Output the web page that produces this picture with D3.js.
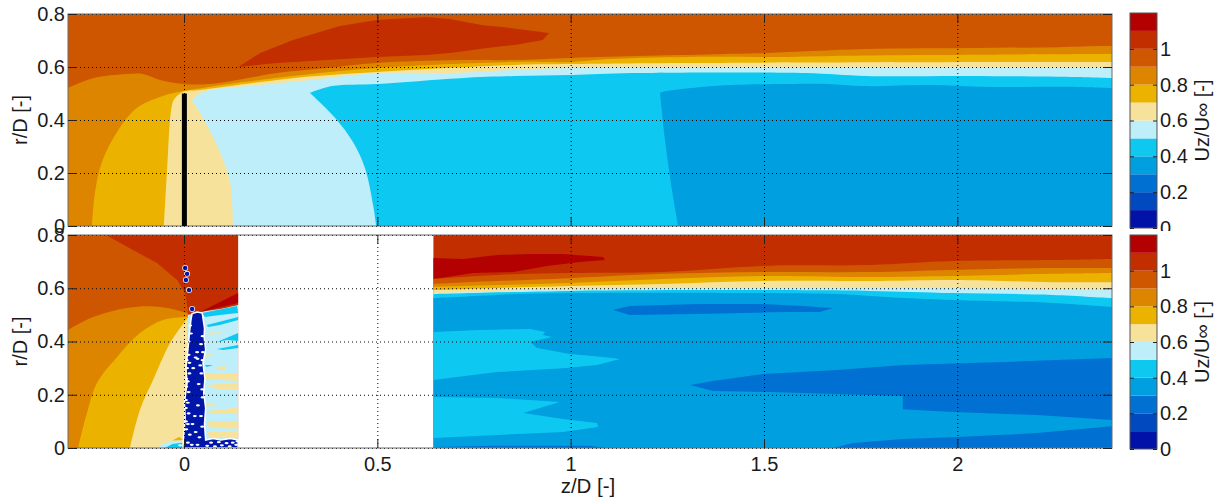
<!DOCTYPE html>
<html>
<head>
<meta charset="utf-8">
<script src="https://cdn.jsdelivr.net/npm/d3@7"></script>
<style>
  html, body { margin: 0; background: #fff; }
  text { font-family: "Liberation Sans", Arial, sans-serif; fill: #1a1a1a; }
  .grid line { stroke: #000; stroke-width: 1; stroke-dasharray: 1 3; }
  .grid path, .frame path { display: none; }
  .frame line { stroke: #222; stroke-width: 1; }
  .tick text { font-size: 20px; }
</style>
</head>
<body>
<svg id="chart" width="1222" height="500"></svg>
<script>
// colour bands of Uz/U_inf
const bandBreaks = [0.1, 0.2, 0.3, 0.4, 0.5, 0.6, 0.7, 0.8, 0.9, 1.0, 1.1];
const bandColors = ['#0012A8', '#0049BE', '#0070D2', '#00A0E0', '#0FC8F0', '#BEEEFA',
                    '#F7E29C', '#EBB300', '#DE8500', '#CF5700', '#C22E00', '#B30000'];
const bandLevels = [0.05, 0.15, 0.25, 0.35, 0.45, 0.55, 0.65, 0.75, 0.85, 0.95, 1.05, 1.15];

const zTicks = [0, 0.5, 1, 1.5, 2];
const rTicks = [0, 0.2, 0.4, 0.6, 0.8];
const barTicks = [0, 0.2, 0.4, 0.6, 0.8, 1];

// top panel: contour outlines, [z, r]. A repeated point keeps a corner sharp.
const topPatch105 = [[0.140,0.600],[0.197,0.653],[0.282,0.702],[0.403,0.755],[0.499,0.777],[0.628,0.789],[0.688,0.781],[0.773,0.758],[0.825,0.751],[0.944,0.728],[0.928,0.702],[0.856,0.683],[0.799,0.675],[0.688,0.653],[0.628,0.645],[0.499,0.638],[0.370,0.626],[0.241,0.615]];
const topEdge085 = [[-0.30,0.521],[-0.235,0.558],[-0.147,0.574],[-0.106,0.574],[-0.062,0.551],[-0.003,0.536],[0.067,0.536],[0.153,0.555],[0.241,0.577],[0.370,0.596],[0.499,0.615],[0.714,0.626],[0.856,0.626],[1.001,0.634],[1.203,0.642],[1.404,0.649],[1.510,0.653],[1.764,0.668],[2.064,0.672],[2.265,0.675],[2.372,0.679],[2.40,0.679]];
const topEdge075 = [[-0.238,0],[-0.230,0.128],[-0.212,0.242],[-0.173,0.355],[-0.122,0.445],[-0.062,0.487],[-0.003,0.509],[0.049,0.521],[0.153,0.543],[0.282,0.566],[0.499,0.596],[0.856,0.619],[1.001,0.619],[1.102,0.630],[1.303,0.638],[1.562,0.638],[1.717,0.642],[1.919,0.645],[2.366,0.649],[2.40,0.649]];
const topEdge065 = [[-0.052,0],[-0.044,0.204],[-0.031,0.457],[-0.023,0.483],[-0.003,0.506],[0.041,0.513],[0.282,0.558],[0.499,0.581],[0.856,0.608],[1.001,0.611],[1.303,0.615],[2.366,0.619],[2.40,0.619]];
const topEdge055 = [[0.127,0],[0.119,0.166],[0.093,0.279],[0.059,0.381],[0.034,0.445],[0.021,0.475],[0.021,0.475],[0.049,0.506],[0.197,0.532],[0.370,0.558],[0.499,0.577],[0.688,0.577],[0.856,0.589],[1.001,0.596],[1.510,0.600],[2.40,0.600]];
const topEdge045 = [[0.497,0],[0.489,0.079],[0.468,0.219],[0.437,0.317],[0.391,0.408],[0.326,0.502],[0.326,0.502],[0.383,0.528],[0.499,0.536],[0.714,0.558],[0.856,0.566],[1.001,0.570],[1.159,0.577],[1.606,0.577],[1.764,0.566],[2.030,0.566],[2.312,0.562],[2.40,0.558]];
const topEdge035 = [[1.278,0],[1.262,0.136],[1.244,0.325],[1.231,0.502],[1.231,0.502],[1.247,0.509],[1.314,0.521],[1.415,0.532],[1.562,0.536],[1.663,0.536],[1.764,0.528],[1.919,0.532],[2.087,0.525],[2.312,0.525],[2.40,0.521]];
const bladeLine = [[0.001,0],[0.001,0.5]];

// bottom panel, left of the gap
const leftEdge095 = [[-0.30,0.80],[-0.202,0.80],[-0.132,0.744],[-0.070,0.695],[-0.018,0.631],[0.003,0.582],[0.010,0.518]];
const leftEdge085 = [[-0.30,0.443],[-0.235,0.492],[-0.147,0.526],[-0.062,0.530],[0.010,0.507]];
const leftEdge075 = [[-0.274,0],[-0.251,0.131],[-0.225,0.244],[-0.173,0.342],[-0.114,0.432],[-0.054,0.481],[0.010,0.492]];
const leftEdge065 = [[-0.140,0],[-0.114,0.143],[-0.080,0.255],[-0.036,0.394],[0.010,0.489]];
const wakeEdge055 = [[0.010,0.50],[0.041,0.511],[0.093,0.522],[0.140,0.537]];
const wakeWedge115 = [[0.041,0.511],[0.140,0.582],[0.140,0.545],[0.054,0.515]];
const wakeCyan = [
  [[0.047,0.507],[0.137,0.533],[0.140,0.507],[0.093,0.500],[0.054,0.492]],
  [[0.059,0.462],[0.140,0.492],[0.140,0.481],[0.093,0.462],[0.062,0.454]],
  [[0.085,0.398],[0.140,0.432],[0.140,0.402],[0.111,0.406]],
  [[0.085,0.372],[0.140,0.387],[0.140,0.376],[0.101,0.368]],
  [[0.054,0.312],[0.075,0.312],[0.059,0.304]]
];
const wakeYellow = [
  [[0.059,0.432],[0.101,0.436],[0.067,0.424]],
  [[0.054,0.349],[0.080,0.357],[0.059,0.342]],
  [[0.085,0.304],[0.106,0.308],[0.106,0.297],[0.085,0.297]],
  [[0.054,0.278],[0.140,0.282],[0.140,0.252],[0.054,0.259]],
  [[0.054,0.237],[0.140,0.244],[0.140,0.222],[0.093,0.218]],
  [[0.054,0.169],[0.085,0.165],[0.059,0.154]],
  [[0.062,0.139],[0.140,0.152],[0.140,0.128],[0.067,0.128]],
  [[0.059,0.100],[0.140,0.102],[0.140,0.072],[0.067,0.076]],
  [[0.059,0.060],[0.140,0.062],[0.140,0.036],[0.067,0.040]]
];
const hubPale = [[-0.07,0],[-0.05,0.02],[-0.01,0.03],[0,0]];
const hubCyan = [[-0.05,0],[-0.03,0.015],[-0.005,0.02],[0,0]];
const hubYellow = [[-0.03,0.028],[-0.012,0.042],[-0.003,0.03]];
const jetOutline = [[-0.003,0],[0.003,0.116],[0.001,0.170],[0.008,0.244],[0.005,0.300],[0.010,0.368],[0.014,0.430],[0.018,0.481],[0.021,0.505],[0.034,0.511],[0.047,0.507],[0.053,0.450],[0.052,0.417],[0.056,0.370],[0.049,0.319],[0.054,0.260],[0.051,0.207],[0.056,0.150],[0.053,0.090],[0.056,0.030],[0.075,0.036],[0.095,0.030],[0.120,0.036],[0.140,0.030],[0.140,0]];
const jetDrops = [[0.003,0.676],[0.008,0.654],[0.005,0.631],[0.013,0.593],[0.021,0.522]];
const jetSpecks = [[0.004,0.40],[0.006,0.37],[0.012,0.35],[0.007,0.33],[0.008,0.30],[0.014,0.28],[0.006,0.26],[0.006,0.23],[0.012,0.21],[0.005,0.18],[0.005,0.15],[0.012,0.13],[0.005,0.10],[0.006,0.07],[0.015,0.05],[0.022,0.09],[0.03,0.06],[0.04,0.04],[0.028,0.12],[0.036,0.16],[0.044,0.12],[0.048,0.19],[0.038,0.24],[0.045,0.28],[0.042,0.31],[0.048,0.33],[0.034,0.36],[0.044,0.39],[0.048,0.42],[0.018,0.43],[0.016,0.46],[0.03,0.34],[0.035,0.335],[0.024,0.30],[0.012,0.40],[0.014,0.32],[0.010,0.25],[0.010,0.17],[0.010,0.09],[0.047,0.22],[0.047,0.08],[0.049,0.36],[0.06,0.008],[0.07,0.02],[0.08,0.006],[0.09,0.022],[0.098,0.01],[0.11,0.018],[0.118,0.006],[0.126,0.02],[0.135,0.012],[0.138,0.025],[0.02,0.012],[0.01,0.02],[-0.01,0.01],[0.035,0.012]];

// bottom panel, right of the gap
const rightBox = [[0.645,0.80],[2.40,0.80],[2.40,0],[0.645,0]];
const rightPatch115 = [[0.645,0.714],[0.722,0.710],[0.809,0.725],[0.895,0.729],[0.980,0.729],[1.084,0.717],[1.089,0.706],[1.024,0.699],[0.939,0.684],[0.851,0.661],[0.747,0.657],[0.645,0.635]];
const rightEdge095 = [[0.645,0.635],[0.809,0.650],[0.998,0.657],[1.239,0.661],[1.497,0.684],[1.774,0.687],[1.989,0.702],[2.247,0.706],[2.40,0.710]];
const rightEdge085 = [[0.645,0.616],[0.809,0.627],[0.998,0.638],[1.239,0.654],[1.497,0.661],[1.774,0.661],[1.989,0.669],[2.247,0.676],[2.40,0.676]];
const rightEdge075 = [[0.645,0.605],[0.809,0.612],[0.998,0.620],[1.239,0.635],[1.497,0.646],[1.774,0.642],[1.989,0.646],[2.247,0.654],[2.40,0.657]];
const rightEdge065 = [[0.645,0.593],[0.809,0.601],[0.998,0.608],[1.239,0.616],[1.497,0.627],[1.774,0.627],[1.989,0.631],[2.247,0.623],[2.40,0.623]];
const rightEdge055 = [[0.645,0.582],[0.809,0.590],[0.998,0.597],[1.239,0.601],[1.497,0.601],[1.774,0.605],[1.989,0.601],[2.247,0.597],[2.40,0.597]];
const rightEdge045 = [[0.645,0.578],[0.998,0.590],[1.497,0.593],[1.774,0.590],[1.989,0.582],[2.247,0.575],[2.40,0.563]];
const rightEdge035 = [[0.645,0.563],[0.809,0.575],[0.998,0.582],[1.497,0.582],[1.688,0.578],[1.859,0.563],[1.989,0.556],[2.247,0.545],[2.40,0.530]];
const rightCyanA = [[0.645,0.436],[0.765,0.443],[0.895,0.447],[0.934,0.436],[0.928,0.424],[0.952,0.417],[0.895,0.398],[0.913,0.376],[0.998,0.353],[1.084,0.342],[1.128,0.334],[1.068,0.312],[0.980,0.300],[0.809,0.285],[0.645,0.255]];
const rightCyanB = [[0.645,0.192],[0.809,0.188],[0.972,0.173],[0.877,0.131],[0.980,0.109],[1.068,0.094],[1.071,0.079],[0.980,0.060],[0.809,0.049],[0.645,0.038]];
const rightDarkA = [[1.109,0.518],[1.153,0.533],[1.327,0.541],[1.497,0.541],[1.601,0.533],[1.678,0.526],[1.645,0.511],[1.559,0.511],[1.327,0.503],[1.153,0.500]];
const rightDarkB = [[1.309,0.237],[1.368,0.252],[1.497,0.278],[1.689,0.293],[1.859,0.312],[2.118,0.323],[2.40,0.338],[2.40,0.105],[2.206,0.124],[1.989,0.135],[1.859,0.146],[1.859,0.195],[1.689,0.203],[1.515,0.210],[1.368,0.214]];
const rightDarkC = [[1.678,0],[1.730,0.019],[1.859,0.034],[1.999,0.041],[2.206,0.056],[2.377,0.079],[2.40,0.083],[2.40,0]];
const rightDarkD = [[0.645,0.004],[0.80,0.008],[1.05,0.008],[1.09,0]];

// layout
const plotLeft = 68, plotRight = 1112;
const barLeft = 1130, barRight = 1157;
const panels = [
  {id: 'top', y0: 14, y1: 226, barY0: 13, barY1: 228, barClip: 231},
  {id: 'bottom', y0: 235, y1: 448, barY0: 235, barY1: 449, barClip: 265}
];

const svg = d3.select('#chart');
const color = d3.scaleThreshold().domain(bandBreaks).range(bandColors);
const xScale = d3.scaleLinear().domain([-0.3, 2.4]).range([plotLeft, plotRight]);

const defs = svg.append('defs');
defs.append('filter').attr('id', 'soft')
    .append('feGaussianBlur').attr('stdDeviation', 0.5);

panels.forEach(p => {
  p.yScale = d3.scaleLinear().domain([0, 0.8]).range([p.y1, p.y0]);
  p.line = d3.line().x(d => xScale(d[0])).y(d => p.yScale(d[1]));
  p.smooth = d3.line().x(d => xScale(d[0])).y(d => p.yScale(d[1])).curve(d3.curveCatmullRom.alpha(0.5));
  defs.append('clipPath').attr('id', 'clip-' + p.id).append('rect')
      .attr('x', plotLeft).attr('y', p.y0)
      .attr('width', plotRight - plotLeft).attr('height', p.y1 - p.y0);
  p.g = svg.append('g');
  p.field = p.g.append('g').attr('clip-path', `url(#clip-${p.id})`)
      .append('g').attr('filter', 'url(#soft)');
});

function fill(p, points, level) {
  return p.field.append('path')
      .attr('d', p.line(points) + 'Z')
      .attr('fill', color(level));
}

// area under an outline, down to r = 0
function fillBelow(p, edge, level) {
  const last = edge[edge.length - 1];
  const foot = `L${xScale(last[0])},${p.yScale(0)}L${xScale(edge[0][0])},${p.yScale(0)}Z`;
  return p.field.append('path')
      .attr('d', p.smooth(edge) + foot)
      .attr('fill', color(level));
}

// top panel
const topPanel = panels[0];
fill(topPanel, [[-0.3, 0.8], [2.4, 0.8], [2.4, 0], [-0.3, 0]], 0.95);
fill(topPanel, topPatch105, 1.05);
fillBelow(topPanel, topEdge085, 0.85);
fillBelow(topPanel, topEdge075, 0.75);
fillBelow(topPanel, topEdge065, 0.65);
fillBelow(topPanel, topEdge055, 0.55);
fillBelow(topPanel, topEdge045, 0.45);
fillBelow(topPanel, topEdge035, 0.35);

// bottom panel, left part
const botPanel = panels[1];
fill(botPanel, [[-0.3, 0.8], [0.14, 0.8], [0.14, 0], [-0.3, 0]], 1.05);
fill(botPanel, [...leftEdge095, [0.010, 0], [-0.3, 0]], 0.95);
fillBelow(botPanel, leftEdge085, 0.85);
fillBelow(botPanel, leftEdge075, 0.75);
fillBelow(botPanel, leftEdge065, 0.65);
fillBelow(botPanel, wakeEdge055, 0.55);
fill(botPanel, wakeWedge115, 1.15);
wakeCyan.forEach(d => fill(botPanel, d, 0.45));
wakeYellow.forEach(d => fill(botPanel, d, 0.65));
fill(botPanel, hubPale, 0.55);
fill(botPanel, hubCyan, 0.45);
fill(botPanel, hubYellow, 0.75);
fill(botPanel, jetOutline, 0.05).attr('stroke', '#fff').attr('stroke-width', 1.5);

botPanel.field.selectAll('.drop-halo').data(jetDrops).join('circle')
    .attr('class', 'drop-halo')
    .attr('cx', d => xScale(d[0])).attr('cy', d => botPanel.yScale(d[1]))
    .attr('r', 3).attr('fill', '#dfe6f5');
botPanel.field.selectAll('.drop').data(jetDrops).join('circle')
    .attr('class', 'drop')
    .attr('cx', d => xScale(d[0])).attr('cy', d => botPanel.yScale(d[1]))
    .attr('r', 2.2).attr('fill', color(0.05));
botPanel.field.selectAll('.speck').data(jetSpecks).join('ellipse')
    .attr('class', 'speck')
    .attr('cx', d => xScale(d[0])).attr('cy', d => botPanel.yScale(d[1]))
    .attr('rx', 2).attr('ry', 1.1).attr('fill', '#fff');

// bottom panel, right part
fill(botPanel, rightBox, 1.05);
fill(botPanel, rightPatch115, 1.15);
fillBelow(botPanel, rightEdge095, 0.95);
fillBelow(botPanel, rightEdge085, 0.85);
fillBelow(botPanel, rightEdge075, 0.75);
fillBelow(botPanel, rightEdge065, 0.65);
fillBelow(botPanel, rightEdge055, 0.55);
fillBelow(botPanel, rightEdge045, 0.45);
fillBelow(botPanel, rightEdge035, 0.35);
fill(botPanel, rightCyanA, 0.45);
fill(botPanel, rightCyanB, 0.45);
fill(botPanel, rightDarkA, 0.25);
fill(botPanel, rightDarkB, 0.25);
fill(botPanel, rightDarkC, 0.25);
fill(botPanel, rightDarkD, 0.25);

// axes, grid and colour bars
panels.forEach(p => {
  const width = plotRight - plotLeft, height = p.y1 - p.y0;

  p.g.append('g').attr('class', 'grid')
      .attr('transform', `translate(0,${p.y1})`)
      .call(d3.axisBottom(xScale).tickValues(zTicks).tickSize(-height).tickFormat(''));
  p.g.append('g').attr('class', 'grid')
      .attr('transform', `translate(${plotLeft},0)`)
      .call(d3.axisLeft(p.yScale).tickValues(rTicks).tickSize(-width).tickFormat(''));

  p.g.append('rect')
      .attr('x', plotLeft).attr('y', p.y0).attr('width', width).attr('height', height)
      .attr('fill', 'none').attr('stroke', '#6a6a6a');

  p.g.append('g').attr('class', 'frame')
      .attr('transform', `translate(0,${p.y1})`)
      .call(d3.axisBottom(xScale).tickValues(zTicks).tickSize(-9).tickPadding(9)
        .tickFormat(p.id === 'bottom' ? d3.format('') : ''));
  p.g.append('g').attr('class', 'frame')
      .attr('transform', `translate(0,${p.y0})`)
      .call(d3.axisTop(xScale).tickValues(zTicks).tickSize(-9).tickFormat(''));
  p.g.append('g').attr('class', 'frame')
      .attr('transform', `translate(${plotLeft},0)`)
      .call(d3.axisLeft(p.yScale).tickValues(rTicks).tickSize(-9).tickPadding(3)
        .tickFormat(d3.format('')));
  p.g.append('g').attr('class', 'frame')
      .attr('transform', `translate(${plotRight},0)`)
      .call(d3.axisRight(p.yScale).tickValues(rTicks).tickSize(-9).tickFormat(''));

  p.g.append('text')
      .attr('transform', `translate(27,${(p.y0 + p.y1) / 2}) rotate(-90)`)
      .attr('text-anchor', 'middle').attr('font-size', 20)
      .text('r/D [-]');

  // colour bar
  const barScale = d3.scaleLinear().domain([0, 1.2]).range([p.barY1, p.barY0]);
  defs.append('clipPath').attr('id', 'barclip-' + p.id).append('rect')
      .attr('x', barLeft - 2).attr('y', 0)
      .attr('width', 62).attr('height', p.id === 'top' ? p.barClip : 500);
  const bar = p.g.append('g').attr('clip-path', `url(#barclip-${p.id})`);
  bar.selectAll('rect').data(bandLevels).join('rect')
      .attr('x', barLeft).attr('width', barRight - barLeft)
      .attr('y', d => barScale(d + 0.05))
      .attr('height', d => barScale(d - 0.05) - barScale(d + 0.05))
      .attr('fill', d => color(d));
  bar.append('rect')
      .attr('x', barLeft).attr('y', p.barY0)
      .attr('width', barRight - barLeft).attr('height', p.barY1 - p.barY0)
      .attr('fill', 'none').attr('stroke', '#555');
  bar.append('g').attr('class', 'frame')
      .attr('transform', `translate(${barLeft},0)`)
      .call(d3.axisLeft(barScale).tickValues(barTicks).tickSize(-4).tickFormat(''));
  bar.append('g').attr('class', 'frame')
      .attr('transform', `translate(${barRight},0)`)
      .call(d3.axisRight(barScale).tickValues(barTicks).tickSize(-4).tickPadding(3)
        .tickFormat(d3.format('')));

  p.g.append('text')
      .attr('transform', `translate(1209,${(p.barY0 + p.barY1) / 2}) rotate(-90)`)
      .attr('text-anchor', 'middle').attr('font-size', 20)
      .text('Uz/U∞ [-]');
});

topPanel.g.append('path')
    .attr('d', topPanel.line(bladeLine))
    .attr('stroke', '#000').attr('stroke-width', 5).attr('fill', 'none');

svg.append('text')
    .attr('x', 588).attr('y', 493)
    .attr('text-anchor', 'middle').attr('font-size', 20.5)
    .text('z/D [-]');
</script>
</body>
</html>
